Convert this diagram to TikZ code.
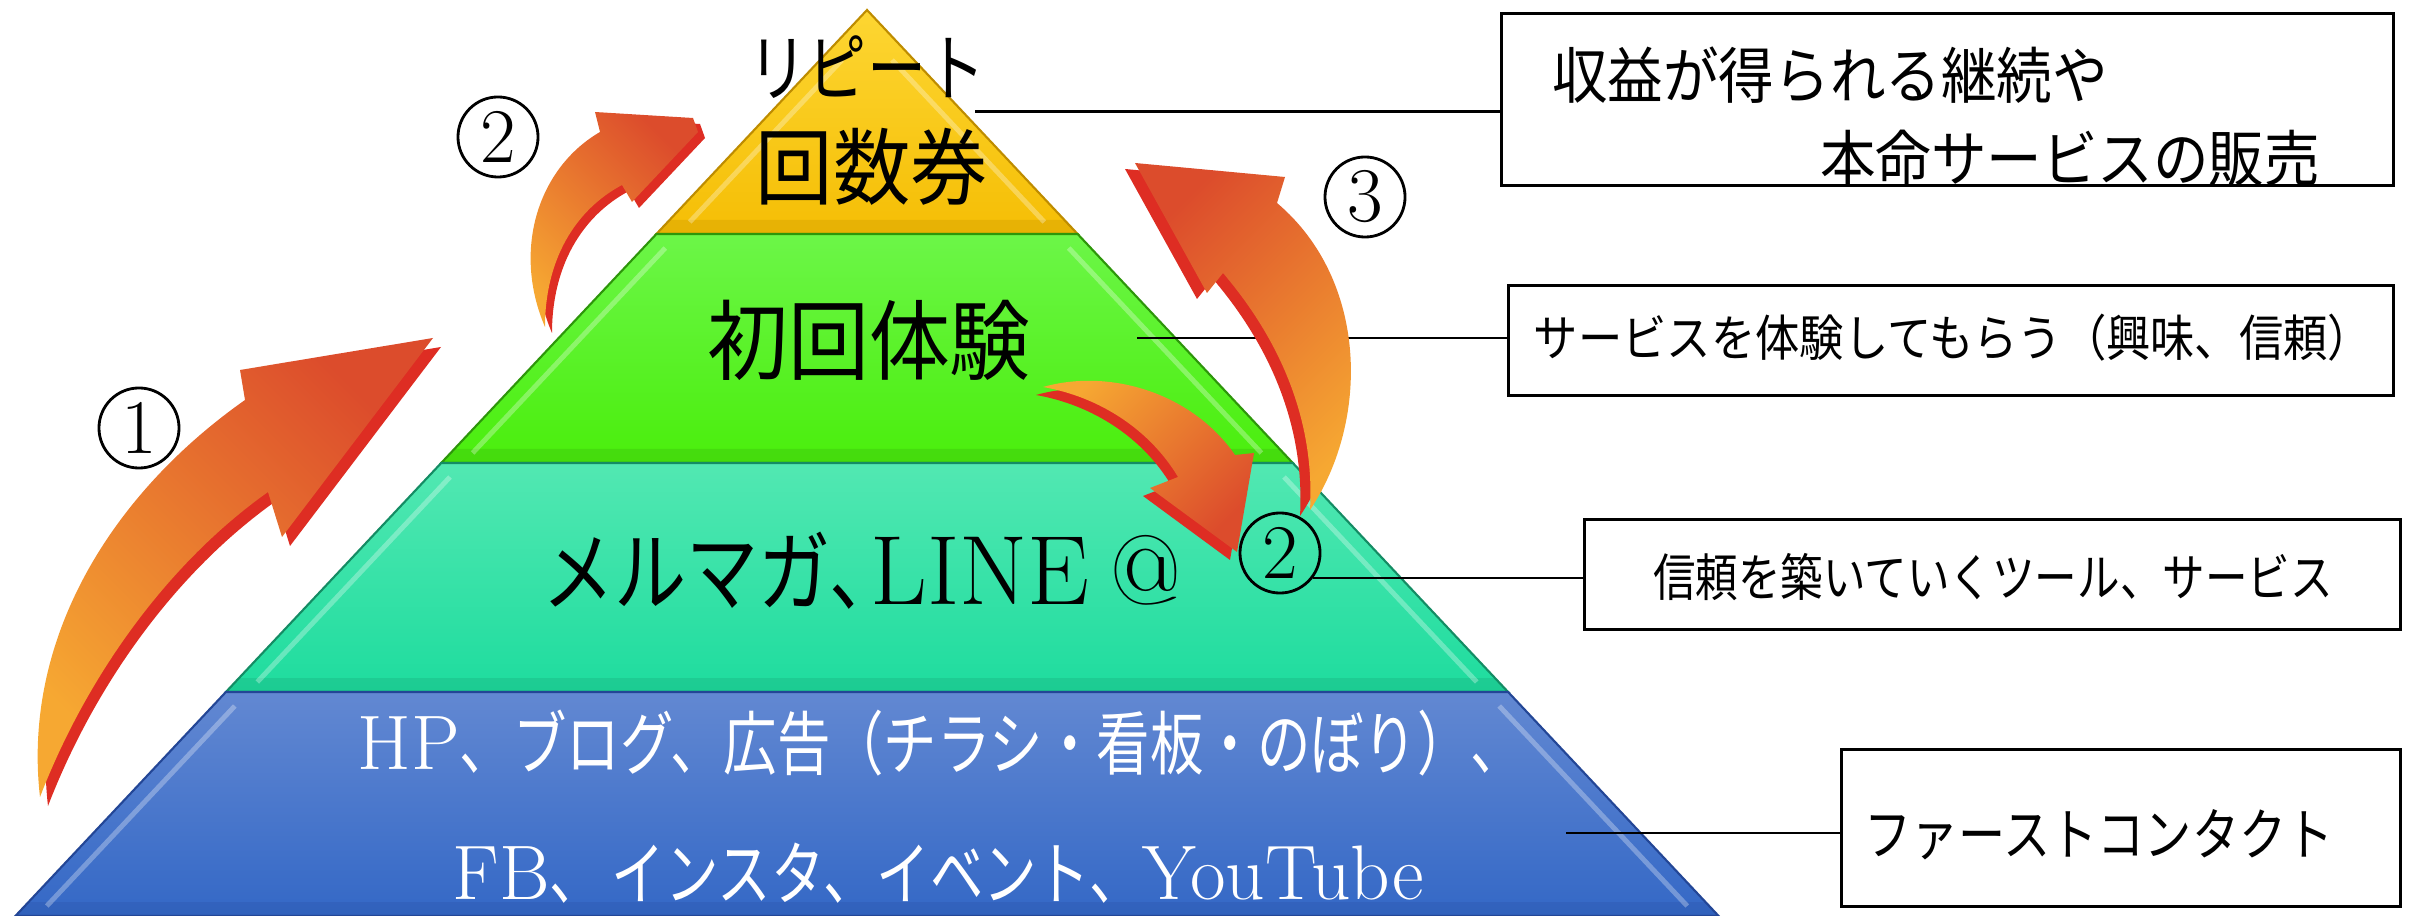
\documentclass[tikz,border=0pt]{standalone}
\usepackage{graphicx}
\usepackage{fontspec}
\newfontfamily\jp{Noto Sans CJK JP}
\definecolor{yelT}{RGB}{253,214,50}
\definecolor{yelB}{RGB}{245,190,5}
\definecolor{yelD}{RGB}{190,140,0}
\definecolor{grnT}{RGB}{108,246,72}
\definecolor{grnB}{RGB}{74,238,12}
\definecolor{grnD}{RGB}{45,150,10}
\definecolor{tealT}{RGB}{82,232,178}
\definecolor{tealB}{RGB}{30,220,158}
\definecolor{tealD}{RGB}{20,140,100}
\definecolor{bluT}{RGB}{98,136,210}
\definecolor{bluB}{RGB}{52,104,198}
\definecolor{bluD}{RGB}{35,70,150}
\definecolor{arrY}{RGB}{246,168,50}
\definecolor{arrR}{RGB}{220,76,44}
\definecolor{arrS}{RGB}{222,45,35}
\tikzset{
  pbox/.style={draw=black, line width=0.85pt, fill=white, inner sep=0pt},
  conn/.style={draw=black, line width=0.85pt},
  circnum/.style={circle, draw=black, line width=0.8pt, minimum size=0.8cm, inner sep=0pt, font=\fontsize{22}{22}\selectfont},
  plain/.style={inner sep=0pt},
  hilite/.style={white, opacity=0.3, line width=1.4pt},
}
\newcommand\tall[2]{\scalebox{1}[#1]{#2}}
\newcommand\arrowOne[1]{\path[#1] (40,797) .. controls (22,640) and (110,495) .. (245,400) -- (240,370) -- (433,338) -- (282,537) -- (268,492) .. controls (165,565) and (85,680) .. (40,797) -- cycle;}
\newcommand\arrowTwo[1]{\path[#1] (545,327) .. controls (512,250) and (538,168) .. (600,132) -- (595,112) -- (693,118) -- (698,132) -- (632,202) -- (622,185) .. controls (575,210) and (545,260) .. (545,327) -- cycle;}
\newcommand\arrowThree[1]{\path[#1] (1310,510) .. controls (1370,420) and (1368,280) .. (1277,203) -- (1285,177) -- (1135,163) -- (1207,293) -- (1223,273) .. controls (1280,340) and (1315,420) .. (1310,510) -- cycle;}
\newcommand\arrowFour[1]{\path[#1] (1043,387) .. controls (1110,368) and (1192,393) .. (1235,455) -- (1254,453) -- (1237,552) -- (1150,488) -- (1178,477) .. controls (1150,430) and (1100,397) .. (1043,387) -- cycle;}
\begin{document}
\begin{tikzpicture}[x=0.01cm, y=-0.01cm]
\useasboundingbox (0,0) rectangle (2410,916);
% ---------- pyramid layers ----------
\path[top color=yelT, bottom color=yelB, draw=yelD, line width=0.6pt] (867,10) -- (1077.6,234) -- (656.4,234) -- cycle;
\fill[yelD, opacity=0.25] (669.6,220) -- (1064.4,220) -- (1077.6,234) -- (656.4,234) -- cycle;
\draw[hilite] (842,60) -- (689.7,222);
\draw[hilite] (892,60) -- (1044.3,222);

\path[top color=grnT, bottom color=grnB, draw=grnD, line width=0.6pt] (656.4,234) -- (1077.6,234) -- (1292.8,463) -- (441.2,463) -- cycle;
\fill[grnD, opacity=0.2] (454.3,449) -- (1279.7,449) -- (1292.8,463) -- (441.2,463) -- cycle;
\draw[hilite] (665.3,248) -- (472.6,453);
\draw[hilite] (1068.7,248) -- (1261.4,453);

\path[top color=tealT, bottom color=tealB, draw=tealD, line width=0.6pt] (441.2,463) -- (1292.8,463) -- (1508.1,692) -- (225.9,692) -- cycle;
\fill[tealD, opacity=0.2] (239.1,678) -- (1494.9,678) -- (1508.1,692) -- (225.9,692) -- cycle;
\draw[hilite] (450,477) -- (257.3,682);
\draw[hilite] (1284,477) -- (1476.7,682);

\path[top color=bluT, bottom color=bluB, draw=bluD, line width=0.6pt] (225.9,692) -- (1508.1,692) -- (1718.6,916) -- (15.4,916) -- cycle;
\fill[bluD, opacity=0.2] (28.5,902) -- (1705.5,902) -- (1718.6,916) -- (15.4,916) -- cycle;
\draw[hilite] (234.8,706) -- (46.8,906);
\draw[hilite] (1499.2,706) -- (1687.2,906);

% ---------- boxes ----------
\node[pbox, minimum width=8.91cm, minimum height=1.71cm] (b1) at (1947.5,99.5) {};
\node[pbox, minimum width=8.84cm, minimum height=1.09cm] (b2) at (1951,340.5) {};
\node[pbox, minimum width=8.15cm, minimum height=1.09cm] (b3) at (1992.5,574.5) {};
\node[pbox, minimum width=5.58cm, minimum height=1.56cm] (b4) at (2121,828) {};

\node[plain, font=\jp\fontsize{15.8}{16}\selectfont] (t1a) at (1830,75) {\tall{1.1}{収益が得られる継続や}};
\node[plain, font=\jp\fontsize{15.8}{16}\selectfont] (t1b) at (2070,158) {\tall{1.1}{本命サービスの販売}};
\node[plain, font=\jp\fontsize{12.6}{13}\selectfont] (t2) at (1953,338) {\tall{1.12}{サービスを体験してもらう（興味、信頼）}};
\node[plain, font=\jp\fontsize{12.1}{13}\selectfont] (t3) at (1993,577) {\tall{1.2}{信頼を築いていくツール、サービス}};
\node[plain, font=\jp\fontsize{13.4}{14}\selectfont] (t4) at (2099,835) {\tall{1.2}{ファーストコンタクト}};

% ---------- connectors ----------
\coordinate (c1) at (975,112);
\coordinate (c2) at (1137,338);
\coordinate (c3) at (1313,578);
\coordinate (c4) at (1566,833);
\draw[conn] (c1) -- (c1 -| b1.west);
\draw[conn] (c2) -- (c2 -| b2.west);
\draw[conn] (c3) -- (c3 -| b3.west);
\draw[conn] (c4) -- (c4 -| b4.west);

% ---------- arrows ----------
\arrowOne{fill=arrS, shift={(8,9)}}
\arrowOne{top color=arrR, bottom color=arrY, shading angle=-45}
\arrowTwo{fill=arrS, shift={(7,6)}}
\arrowTwo{top color=arrR, bottom color=arrY, shading angle=-45}
\arrowThree{fill=arrS, shift={(-10,6)}}
\arrowThree{top color=arrR, bottom color=arrY, shading angle=45}
\arrowFour{fill=arrS, shift={(-7,8)}}
\arrowFour{top color=arrY, bottom color=arrR, shading angle=45}

% ---------- pyramid texts ----------
\node[plain, font=\jp\fontsize{16.8}{17}\selectfont] (p1) at (867,67) {\tall{1.25}{リピート}};
\node[plain, font=\jp\fontsize{22}{22}\selectfont] (p2) at (872,167) {\tall{1.08}{回数券}};
\node[plain, font=\jp\fontsize{23}{23}\selectfont] (p3) at (869,340) {\tall{1.08}{初回体験}};
\node[plain] (p4) at (862,571) {{\jp\fontsize{20.5}{21}\selectfont \tall{1.22}{メルマガ、}}\kern-8.8pt{\fontsize{28}{28}\selectfont LINE\hspace{6pt}@}};
\node[plain, text=white] (p5) at (941,743) {{\fontsize{22}{22}\selectfont HP}{\jp\fontsize{15.2}{16}\selectfont \tall{1.3}{、ブログ、広告（チラシ・看板・のぼり）、}}};
\node[plain, text=white] (p6) at (938,873) {{\fontsize{22}{22}\selectfont FB}{\jp\fontsize{15.2}{16}\selectfont \tall{1.3}{、\,インスタ、イベント、}}{\fontsize{22}{22}\selectfont YouTube}};

% ---------- circled numbers ----------
\node[circnum] (n1) at (139,428) {1};
\node[circnum] (n2a) at (498,137) {2};
\node[circnum] (n2b) at (1280,553) {2};
\node[circnum] (n3) at (1365,197) {3};
\end{tikzpicture}
\end{document}
